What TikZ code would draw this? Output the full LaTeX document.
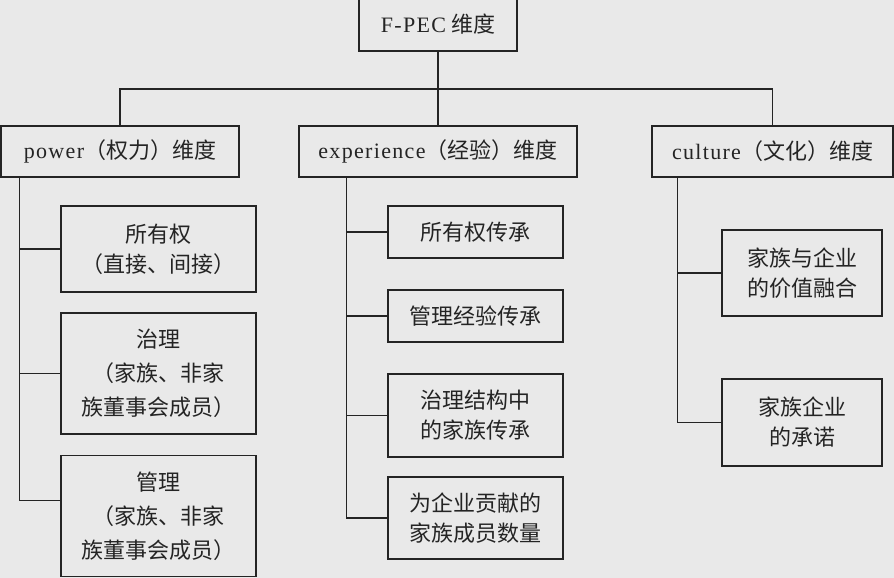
\documentclass[tikz,border=0pt]{standalone}
\usepackage{fontspec}
\setmainfont{Liberation Serif}
\newfontfamily\cjk{Noto Sans CJK SC}
\definecolor{paper}{rgb}{0.914,0.914,0.914}
\definecolor{ink}{rgb}{0.14,0.14,0.14}
\newcommand{\lat}[1]{{\rmfamily\addfontfeatures{LetterSpace=6}#1}}

\begin{document}
\begin{tikzpicture}[x=1pt,y=-1pt,
  box/.style={draw=ink,line width=1.5pt,fill=paper,align=center,inner sep=0pt,
    text=ink,font=\fontsize{22}{30}\selectfont\cjk},
  tall/.style={font=\fontsize{22}{34}\selectfont\cjk},
  link/.style={draw=ink,line width=1.5pt}]

  \fill[paper] (0,0) rectangle (894,578);
  \useasboundingbox (0,0) rectangle (894,578);

  \node[box,minimum width=158pt,minimum height=53pt] (root) at (438,24.5) {\lat{F-PEC} 维度};

  \node[box,minimum width=238pt,minimum height=51pt] (pow) at (120,151.5) {\lat{power}（权力）维度};
  \node[box,minimum width=278pt,minimum height=51pt] (exp) at (438,151.5) {\lat{experience}（经验）维度};
  \node[box,minimum width=241pt,minimum height=51pt] (cul) at (772.5,151.5) {\lat{culture}（文化）维度};

  \node[box,minimum width=195pt,minimum height=86pt] (p1) at (158.5,249) {所有权\\（直接、间接）};
  \node[box,tall,minimum width=195pt,minimum height=121pt] (p2) at (158.5,373.5) {治理\\（家族、非家\\族董事会成员）};
  \node[box,tall,minimum width=195pt,minimum height=121pt] (p3) at (158.5,516) {管理\\（家族、非家\\族董事会成员）};

  \node[box,minimum width=175pt,minimum height=52pt] (e1) at (475.5,232) {所有权传承};
  \node[box,minimum width=175pt,minimum height=52pt] (e2) at (475.5,316) {管理经验传承};
  \node[box,minimum width=175pt,minimum height=83pt] (e3) at (475.5,415.5) {治理结构中\\的家族传承};
  \node[box,minimum width=175pt,minimum height=82pt] (e4) at (475.5,518) {为企业贡献的\\家族成员数量};

  \node[box,minimum width=160pt,minimum height=86pt] (c1) at (802,273) {家族与企业\\的价值融合};
  \node[box,minimum width=160pt,minimum height=87pt] (c2) at (802,422.5) {家族企业\\的承诺};

  \coordinate (bus) at (438,89);
  \coordinate (pspine) at ([xshift=19pt]pow.south west);
  \coordinate (espine) at ([xshift=48pt]exp.south west);
  \coordinate (cspine) at ([xshift=26pt]cul.south west);

  \draw[link] (root) -- (exp);
  \draw[link] (pow.north) |- (bus) -| (cul.north);

  \foreach \n in {p1,p2}
    \draw[link] (\n.west) -- (\n.west -| pspine);
  \draw[link] (pspine) |- ([yshift=15.5pt]p3.west);

  \foreach \n in {e1,e2,e3}
    \draw[link] (\n.west) -- (\n.west -| espine);
  \draw[link] (espine) |- (e4.west);

  \draw[link] (c1.west) -- (c1.west -| cspine);
  \draw[link] (cspine) |- (c2.west);

\end{tikzpicture}
\end{document}
